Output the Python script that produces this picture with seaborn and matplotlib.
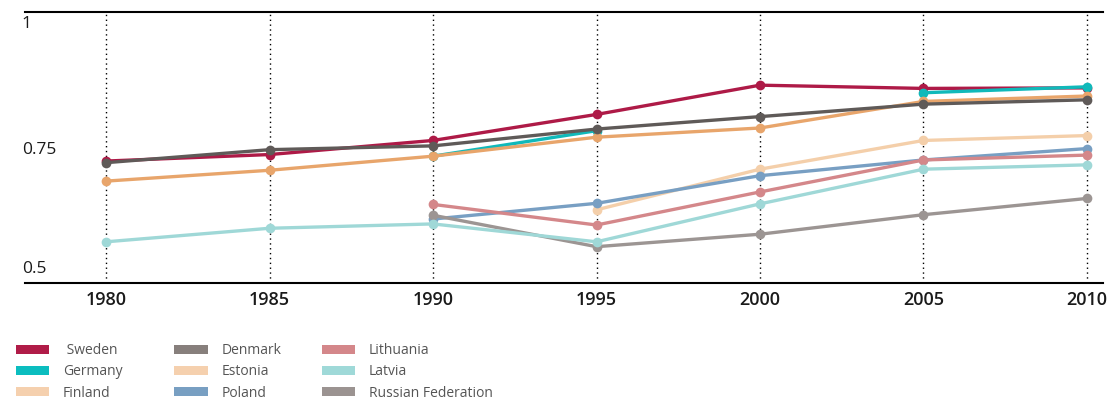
import numpy as np
import pandas as pd
import matplotlib
matplotlib.use("Agg")
import matplotlib.pyplot as plt
from matplotlib.patches import Patch
from matplotlib.transforms import blended_transform_factory, offset_copy
import seaborn as sns

# --- data ---
years = [1980, 1985, 1990, 1995, 2000, 2005, 2010]
nan = np.nan
sweden = [0.725, 0.737, 0.763, 0.811, 0.865, 0.859, 0.860]
germany = [nan, nan, 0.734, 0.781, nan, 0.851, 0.862]
finland = [0.688, 0.708, 0.734, 0.769, 0.786, 0.835, 0.845]
denmark = [0.722, 0.746, 0.753, 0.784, 0.807, 0.830, 0.838]
estonia = [nan, nan, nan, 0.635, 0.710, 0.763, 0.772]
poland = [nan, nan, 0.618, 0.647, 0.698, 0.727, 0.748]
lithuania = [nan, nan, 0.645, 0.607, 0.668, 0.727, 0.736]
latvia = [0.576, 0.601, 0.609, 0.576, 0.646, 0.710, 0.718]
russia = [nan, nan, 0.625, 0.567, 0.590, 0.626, 0.656]

yticks = [0.5, 0.75, 1]
ytick_labels = ["0.5", "0.75", "1"]

series = {
    "Sweden": sweden,
    "Germany": germany,
    "Finland": finland,
    "Denmark": denmark,
    "Estonia": estonia,
    "Poland": poland,
    "Lithuania": lithuania,
    "Russian Federation": russia,
    "Latvia": latvia,
}

# line colours and legend swatch colours (they differ a bit in the original)
line_colors = {
    "Sweden": "#AE1A47",
    "Germany": "#10B9BA",
    "Finland": "#E8A56B",
    "Denmark": "#5F5A58",
    "Estonia": "#F4CFAA",
    "Poland": "#789FC3",
    "Lithuania": "#D4878A",
    "Latvia": "#9FD8D7",
    "Russian Federation": "#9C9593",
}
legend_colors = {
    "Sweden": "#B01C48",
    "Germany": "#0BBDBF",
    "Finland": "#F5D0AE",
    "Denmark": "#877F7C",
    "Estonia": "#F5D0AE",
    "Poland": "#789FC2",
    "Lithuania": "#D4878A",
    "Latvia": "#9FD9D8",
    "Russian Federation": "#9B9391",
}
legend_columns = [
    ["Sweden", "Germany", "Finland"],
    ["Denmark", "Estonia", "Poland"],
    ["Lithuania", "Latvia", "Russian Federation"],
]

# long form; a gap (NaN) starts a new segment so lines break there
rows = []
seg = 0
for name, vals in series.items():
    seg += 1
    for yr, v in zip(years, vals):
        if np.isnan(v):
            seg += 1
            continue
        rows.append({"year": yr, "value": v, "country": name, "seg": seg})
df = pd.DataFrame(rows)

sns.set_style("white")
plt.rcParams["font.family"] = ["Open Sans", "DejaVu Sans"]

fig = plt.figure(figsize=(11.1, 4.0), dpi=100)
ax = fig.add_axes([0.0225, 0.2925, 0.9712, 0.6775])

# dotted verticals at each year
for yr in years:
    ax.axvline(yr, color="black", lw=1.0, ls=(0, (1, 2.5)), zorder=1)

sns.lineplot(data=df, x="year", y="value", hue="country", units="seg",
             estimator=None, hue_order=list(series.keys()),
             palette=line_colors, marker="o", markersize=7,
             markeredgewidth=0, linewidth=2.4, legend=False, ax=ax, zorder=3)

ax.set_xlim(1977.52, 2010.49)
ax.set_ylim(0.5, 1.0)
ax.set_xlabel("")
ax.set_ylabel("")

ax.set_xticks(years)
ax.set_xticklabels([str(y) for y in years], fontsize=13, fontweight="semibold",
                   color="#1a1a1a")
ax.tick_params(axis="x", length=0, pad=6)

# y labels sit inside the plot, left aligned
ax.set_yticks([])
trans = blended_transform_factory(ax.transAxes, ax.transData)
for val, lab, va, dy in zip(yticks, ytick_labels,
                            ["bottom", "center", "top"], [6, -2, -4]):
    t = offset_copy(trans, fig=fig, x=0, y=dy, units="dots")
    ax.text(-0.003, val, lab, transform=t, ha="left", va=va,
            fontsize=12.5, color="#1a1a1a")

for side in ["left", "right"]:
    ax.spines[side].set_visible(False)
for side in ["top", "bottom"]:
    ax.spines[side].set_color("black")
    ax.spines[side].set_linewidth(1.5)
ax.grid(False)

# legend: three columns placed by hand
col_x = [0.014, 0.157, 0.29]
for cx, names in zip(col_x, legend_columns):
    handles = [Patch(facecolor=legend_colors[n], edgecolor="none") for n in names]
    labels = [(" " + n) if n == "Sweden" else n for n in names]
    fig.legend(handles, labels, loc="upper left", bbox_to_anchor=(cx, 0.142),
               frameon=False, fontsize=10, handlelength=2.4, handleheight=0.6,
               handletextpad=1.0, labelspacing=0.45, borderaxespad=0,
               borderpad=0, labelcolor="#555555")

fig.savefig("out.png", dpi=100)
